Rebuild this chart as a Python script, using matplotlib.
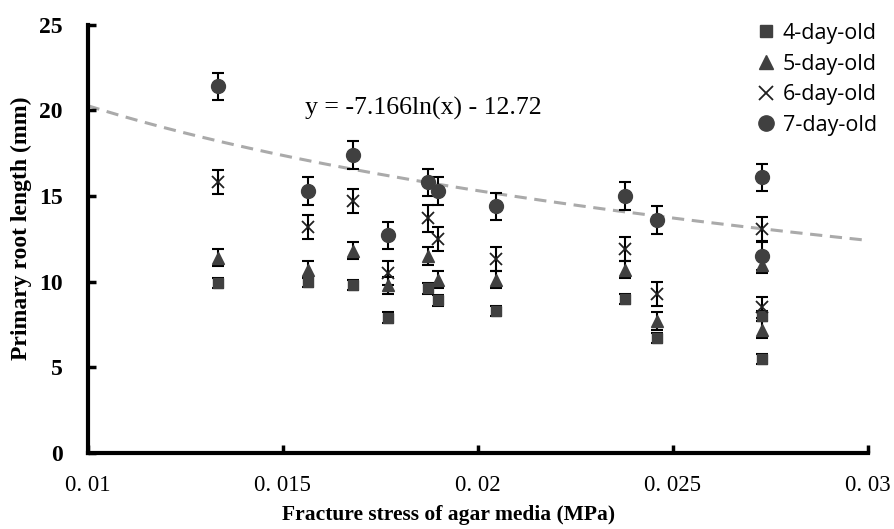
import numpy as np
import matplotlib
matplotlib.use("Agg")
import matplotlib.pyplot as plt
from matplotlib.lines import Line2D

# Fracture stress (MPa) for each agar medium
stress = [0.01333, 0.01564, 0.01679, 0.01769, 0.01872, 0.01897, 0.02046, 0.02377, 0.02459, 0.02728, 0.02728]

# Primary root length (mm)
day4 = [9.9, 10.0, 9.8, 7.9, 9.6, 8.9, 8.3, 9.0, 6.7, 8.0, 5.5]
day5 = [11.4, 10.7, 11.8, 9.8, 11.5, 10.1, 10.1, 10.7, 7.7, 11.0, 7.2]
day6 = [15.8, 13.2, 14.7, 10.5, 13.7, 12.5, 11.3, 11.9, 9.3, 13.1, 8.5]
day7 = [21.4, 15.3, 17.4, 12.7, 15.8, 15.3, 14.4, 15.0, 13.6, 16.1, 11.5]

err4 = [0.3, 0.3, 0.3, 0.3, 0.3, 0.3, 0.3, 0.3, 0.3, 0.3, 0.3]
err5 = [0.5, 0.5, 0.5, 0.5, 0.5, 0.5, 0.5, 0.5, 0.5, 0.5, 0.5]
err6 = [0.7, 0.7, 0.7, 0.7, 0.8, 0.7, 0.7, 0.7, 0.7, 0.7, 0.6]
err7 = [0.8, 0.8, 0.8, 0.8, 0.8, 0.8, 0.8, 0.8, 0.8, 0.8, 0.8]

series_labels = ["4-day-old", "5-day-old", "6-day-old", "7-day-old"]
fit_a, fit_b = -7.166, -12.72

xticks = [0.01, 0.015, 0.02, 0.025, 0.03]
xticklabels = ["0. 01", "0. 015", "0. 02", "0. 025", "0. 03"]
yticks = [0, 5, 10, 15, 20, 25]

serif = ["Liberation Serif", "DejaVu Serif"]
gray = "#404040"

fig = plt.figure(figsize=(8.94, 5.29), dpi=100)
ax = fig.add_axes([0.098, 0.144, 0.873, 0.809])

# trend line
xs = np.linspace(0.01, 0.03, 200)
ax.plot(xs, fit_a * np.log(xs) + fit_b, ls=(0, (4, 2.5)), color="#aaaaaa", lw=2.2, zorder=1)

styles = [("s", 7.5), ("^", 8.5), ("x", 9), ("o", 10)]
data = [(day4, err4), (day5, err5), (day6, err6), (day7, err7)]
for (m, ms), (vals, errs), lab in zip(styles, data, series_labels):
    ax.errorbar(stress, vals, yerr=errs, fmt="none", ecolor="black", elinewidth=1.5,
                capsize=4, capthick=1.5, zorder=2)
    if m == "x":
        ax.plot(stress, vals, ls="none", marker="x", ms=ms, mec="#202020", mew=1.3, zorder=3)
    else:
        ax.plot(stress, vals, ls="none", marker=m, ms=ms, mfc=gray, mec=gray, zorder=3)

ax.set_xlim(0.01, 0.03)
ax.set_ylim(0, 25)
ax.set_xticks(xticks)
ax.set_xticklabels(xticklabels, fontfamily=serif, fontsize=16.5)
ax.set_yticks(yticks)
ax.set_yticklabels([str(v) for v in yticks], fontfamily=serif, fontweight="bold", fontsize=17)
ax.tick_params(axis="x", direction="in", length=6, width=2.5, pad=16)
ax.tick_params(axis="y", direction="in", length=6, width=2.5, pad=18)

for s in ["top", "right"]:
    ax.spines[s].set_visible(False)
for s in ["left", "bottom"]:
    ax.spines[s].set_linewidth(3)

ax.set_xlabel("Fracture stress of agar media (MPa)", fontfamily=serif, fontweight="bold", fontsize=15.5)
ax.xaxis.set_label_coords(0.462, -0.122)
ax.set_ylabel("Primary root length (mm)", fontfamily=serif, fontweight="bold", fontsize=17)
ax.yaxis.set_label_coords(-0.071, 0.525)

ax.text(0.01556, 20.1, "y = -7.166ln(x) - 12.72", fontfamily=serif, fontsize=18.5, ha="left", va="center")

handles = [
    Line2D([], [], ls="none", marker="s", ms=9, mfc=gray, mec=gray),
    Line2D([], [], ls="none", marker="^", ms=10, mfc=gray, mec=gray),
    Line2D([], [], ls="none", marker="x", ms=10, mec="#202020", mew=1.3),
    Line2D([], [], ls="none", marker="o", ms=11, mfc=gray, mec=gray),
]
fig.legend(handles, series_labels, loc="upper right", bbox_to_anchor=(0.993, 0.977), frameon=False,
           prop={"family": "Open Sans", "size": 15.5}, handlelength=0.8, handletextpad=0.4, labelspacing=0.45,
           borderaxespad=0.1)

fig.savefig("out.png", dpi=100)
